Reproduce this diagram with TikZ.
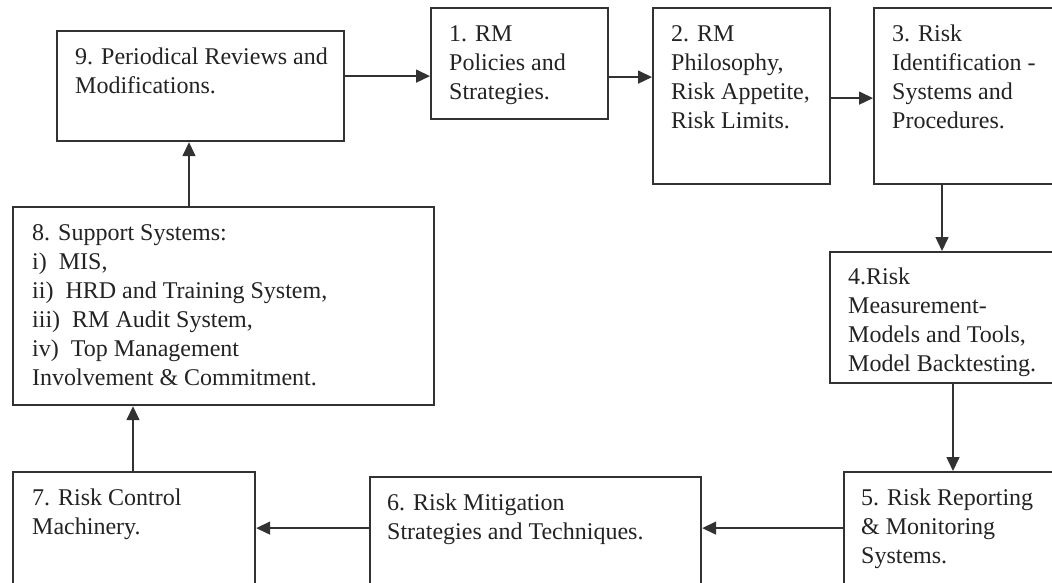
\documentclass[tikz,border=0pt]{standalone}
\usepackage{fontspec}
\setmainfont{Liberation Serif}
\usepackage{tikz}
\usetikzlibrary{calc,positioning,arrows.meta}
\definecolor{boxline}{RGB}{50,50,50}
\definecolor{boxtext}{RGB}{35,35,35}
\begin{document}
\begin{tikzpicture}[x=1pt,y=-1pt,
    box/.style={draw=boxline,line width=2.2pt,rectangle,inner sep=0pt,anchor=north west},
    txt/.style={anchor=north west,inner sep=0pt,align=left,text=boxtext,
      font=\fontsize{24}{29}\selectfont},
    arr/.style={draw=boxline,line width=1.5pt,-{Triangle[length=14pt,width=13pt]}}]
        \fill[white] (0,0) rectangle (1052,583);
        \clip (0,0) rectangle (1052,583);
        \node[box,minimum width=287pt,minimum height=110pt] (b9) at (56,30) {};
        \node[box,minimum width=177pt,minimum height=111pt] (b1) at (430,7) {};
        \node[box,minimum width=177pt,minimum height=176pt] (b2) at (652,7) {};
        \node[box,minimum width=200pt,minimum height=176pt] (b3) at (873,7) {};
        \node[box,minimum width=240pt,minimum height=131pt] (b4) at (829,251) {};
        \node[box,minimum width=230pt,minimum height=130pt] (b5) at (843,471) {};
        \node[box,minimum width=331pt,minimum height=125pt] (b6) at (369,476) {};
        \node[box,minimum width=242pt,minimum height=130pt] (b7) at (12,471) {};
        \node[box,minimum width=421pt,minimum height=198pt] (b8) at (12,206) {};
        \node[txt] (t9) at ([shift={(19pt,-14pt)}]b9.north west) {\strut 9. Periodical Reviews and\\Modifications.};
        \node[txt] (t1) at ([shift={(19pt,-14pt)}]b1.north west) {\strut 1. RM\\Policies and\\Strategies.};
        \node[txt] (t2) at ([shift={(19pt,-14pt)}]b2.north west) {\strut 2. RM\\Philosophy,\\Risk Appetite,\\Risk Limits.};
        \node[txt] (t3) at ([shift={(19pt,-14pt)}]b3.north west) {\strut 3. Risk\\Identification -\\Systems and\\Procedures.};
        \node[txt] (t4) at ([shift={(19pt,-13pt)}]b4.north west) {\strut 4.Risk\\Measurement-\\Models and Tools,\\Model Backtesting.};
        \node[txt] (t5) at ([shift={(18pt,-14pt)}]b5.north west) {\strut 5. Risk Reporting\\\& Monitoring\\Systems.};
        \node[txt] (t6) at ([shift={(18pt,-14pt)}]b6.north west) {\strut 6. Risk Mitigation\\Strategies and Techniques.};
        \node[txt] (t7) at ([shift={(20pt,-14pt)}]b7.north west) {\strut 7. Risk Control\\Machinery.};
        \node[txt] (t8) at ([shift={(20pt,-14pt)}]b8.north west) {\strut 8. Support Systems:\\i)~ MIS,\\ii)~ HRD and Training System,\\iii)~ RM Audit System,\\iv)~ Top Management\\Involvement \& Commitment.};
        \draw[arr] ([yshift=10pt]b9.east) -- ([yshift=10pt]b9.east -| b1.west);
        \draw[arr] ([yshift=-13.5pt]b1.east) -- ([yshift=-13.5pt]b1.east -| b2.west);
        \draw[arr] ([yshift=-2pt]b2.east) -- ([yshift=-2pt]b2.east -| b3.west);
        \draw[arr] ([xshift=113pt]b4.north west |- b3.south) -- ([xshift=113pt]b4.north west);
        \draw[arr] ([xshift=124pt]b4.south west) -- ([xshift=124pt]b4.south west |- b5.north);
        \draw[arr] ([yshift=9pt]b5.west) -- ([yshift=9pt]b5.west -| b6.east);
        \draw[arr] ([yshift=11.5pt]b6.west) -- ([yshift=11.5pt]b6.west -| b7.east);
        \draw[arr] ([xshift=121pt]b7.north west) -- ([xshift=121pt]b7.north west |- b8.south);
        \draw[arr] ([xshift=133pt]b9.south west |- b8.north) -- ([xshift=133pt]b9.south west);
      \end{tikzpicture}
\end{document}
